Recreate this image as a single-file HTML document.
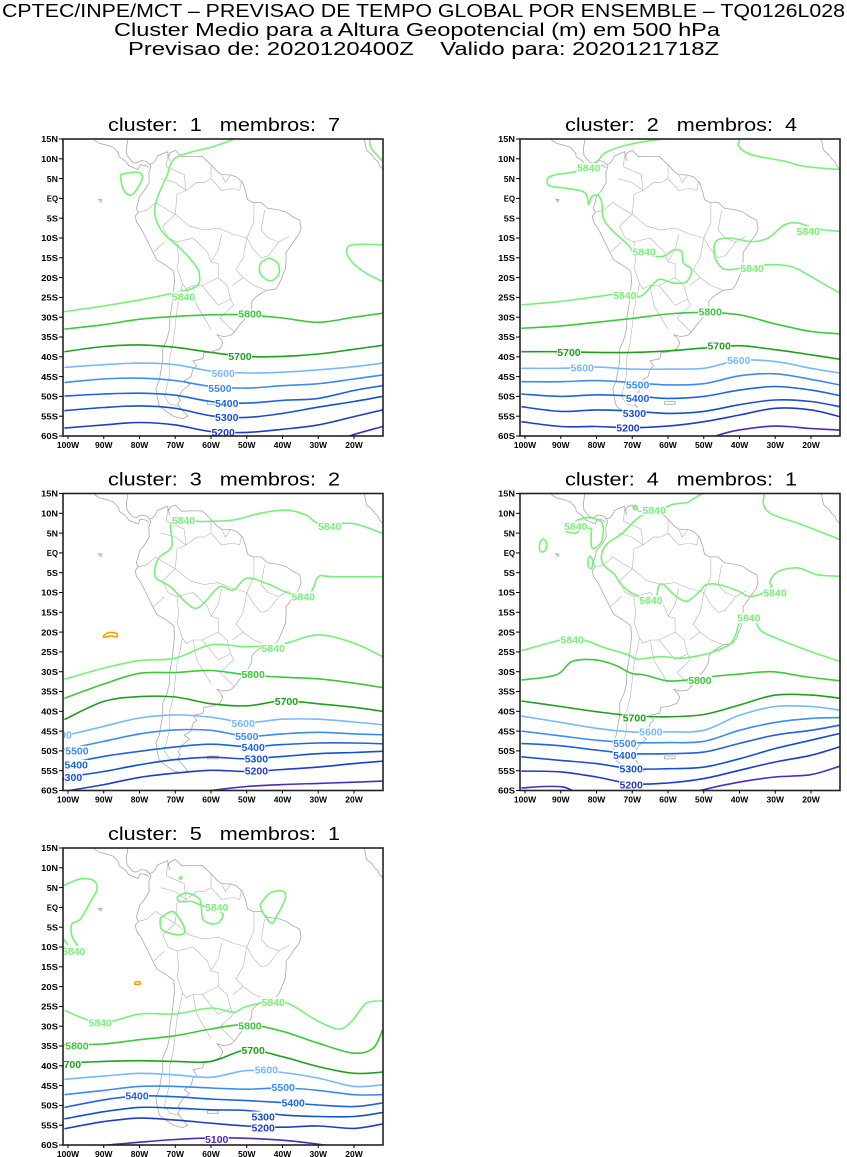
<!DOCTYPE html>
<html><head><meta charset="utf-8"><style>
html,body{margin:0;padding:0;background:#fff;}
svg{display:block;font-family:"Liberation Sans",sans-serif;}
.pre{white-space:pre;}
</style></head><body>
<svg id="chart" width="847" height="1157" viewBox="0 0 847 1157" xmlns="http://www.w3.org/2000/svg">
<rect width="847" height="1157" fill="#fff"/>
<text x="2" y="17" font-size="18" textLength="843" lengthAdjust="spacingAndGlyphs">CPTEC/INPE/MCT – PREVISAO DE TEMPO GLOBAL POR ENSEMBLE – TQ0126L028</text>
<text x="114" y="36" font-size="18" textLength="606" lengthAdjust="spacingAndGlyphs">Cluster Medio para a Altura Geopotencial (m) em 500 hPa</text>
<text class="pre" x="128" y="55" font-size="18" textLength="591" lengthAdjust="spacingAndGlyphs">Previsao de: 2020120400Z    Valido para: 2020121718Z</text>
<g id="panels"></g>
</svg>
<script>
const LONS=[-101,-90,-80,-70,-60,-50,-40,-30,-20,-12];
const latTicks=[15,10,5,0,-5,-10,-15,-20,-25,-30,-35,-40,-45,-50,-55,-60];
const latTickLabels=['15N','10N','5N','EQ','5S','10S','15S','20S','25S','30S','35S','40S','45S','50S','55S','60S'];
const lonTicks=[-100,-90,-80,-70,-60,-50,-40,-30,-20];
const lonTickLabels=['100W','90W','80W','70W','60W','50W','40W','30W','20W'];
const COLORS={5840:'#78f078',5800:'#3cc83c',5700:'#1ea01e',5600:'#78b8ff',5500:'#3c8cf0',5400:'#1e64e0',5300:'#1450d0',5200:'#1e3cc8',5100:'#5028c0',5900:'#f0a000'};

// Panel 1
const p1_5800=[-33,-31.9,-30.5,-29.8,-29.4,-29.4,-30.2,-31.3,-30,-29];
const p1_5700=[-38.7,-37.4,-37,-37.6,-38.9,-39.9,-39.9,-39.3,-38.1,-37.1];
const p1_5600=[-42.7,-42,-41.6,-42,-43.6,-44.1,-43.9,-43.3,-42.5,-41.6];
const p1_5500=[-46.5,-45.6,-45.4,-46,-47.5,-47.9,-47.3,-46.8,-45.6,-44.6];
const p1_5400=[-49.9,-49.4,-49.2,-49.7,-51.3,-51.7,-51,-50.5,-48.5,-47.3];
const p1_5300=[-53.6,-52.8,-52.4,-53,-54.9,-55.3,-54.3,-52.7,-51.3,-50];
const p1_5200=[-58,-57.2,-56.6,-57.2,-58.9,-59.1,-58.3,-57.2,-55.1,-53.4];
const p1_5100=[[-22,-60.5],[-20.3,-59.7],[-12,-57.6]];
const p1_5840a=[[-101.2,-28.6],[-91,-27.3],[-79.8,-25.6],[-70.5,-23.9],[-64,-22.2],[-63.3,-18.9],[-64.9,-16.3],[-68.7,-12.5],[-73.3,-8.8],[-75.6,-4.5],[-75.2,-0.3],[-72.4,5.6],[-70.5,9.8],[-65.9,11.6],[-59.3,13.1],[-52.8,15.2]];
const p1_5840b=[[-85.4,6],[-82,6.6],[-79.8,6.4],[-79.3,4.7],[-82.1,0.9],[-84.5,2.2],[-85.4,6]];
const p1_5840c=[[-43.7,-15],[-41.2,-16.5],[-41.1,-19.3],[-43.5,-20.8],[-46.2,-19],[-46.1,-16.3],[-43.7,-15]];
const p1_5840d=[[-12,-11.7],[-20.3,-11.7],[-22.1,-13.4],[-20.3,-16.3],[-16.6,-18.9],[-12,-21]];
const p1_5840e=[[-15.6,15.2],[-15.2,12.7],[-12,9.4]];
const p1_labels=[['5840',-67.7,-24.8,5840],['5800',-49.1,-29.1,5800],['5700',-51.9,-39.9,5700],['5600',-56.6,-44.1,5600],['5500',-57.5,-47.9,5500],['5400',-55.6,-51.7,5400],['5300',-55.6,-55.3,5300],['5200',-56.6,-59.1,5200]];

// Panel 2
const p2_5800=[-32.8,-32.2,-31.3,-30.3,-29.2,-28.8,-29.4,-31.7,-33.6,-34.2];
const p2_5700=[-38.7,-38.7,-38.9,-38.9,-38.5,-37.8,-37.2,-38.2,-39.5,-40.6];
const p2_5600=[-42.9,-42.9,-42.6,-43.1,-43.1,-42.9,-40.9,-41.2,-42.9,-44.1];
const p2_5500=[-46.3,-46.3,-46,-46.5,-47.1,-46.8,-44.8,-44.3,-45.7,-47.1];
const p2_5400=[-49.4,-50,-49.6,-49.9,-50.5,-50,-48.4,-47.5,-48.4,-49.8];
const p2_5300=[-52.6,-53.8,-53.4,-53.7,-54.3,-53.8,-52.1,-50.9,-51.3,-52.6];
const p2_5200=[-56.4,-57.6,-57.6,-57.9,-57.5,-56.4,-54.7,-53,-53.4,-55.1];
const p2_5100=[[-47,-60.6],[-46.6,-60],[-40.2,-58.5],[-30.1,-57.5],[-20,-58.1],[-12,-58.5]];
const p2_5840a=[[-101,-26.9],[-90,-26],[-79.9,-24.8],[-74.9,-24.3],[-68,-24.8],[-63.9,-21.4],[-62.1,-20.4],[-58.4,-21.4],[-54.8,-21],[-53.4,-18],[-55.7,-16.3],[-56.2,-13.4],[-58.4,-13],[-60.3,-14.2],[-63,-14.7],[-69.4,-13.4],[-71.2,-11.7],[-75.8,-7.9],[-78.1,-5],[-78.5,-1.2],[-79.5,0.7],[-81.3,0.5],[-82.2,-1.6],[-82.6,0.5],[-84,1.8],[-88.6,2.6],[-93.2,3.2],[-93.6,5.1],[-91.3,6],[-85.8,6.8],[-80.4,8.9],[-77.6,11.5],[-73.1,13.1],[-67.6,14.2],[-58.9,15.3]];
const p2_5840b=[[-39.7,15.3],[-40.2,13.1],[-36.5,11],[-27.4,9.4],[-21.9,8.1],[-12,7.3]];
const p2_5840c=[[-12,-8.3],[-18.3,-7.7],[-23.7,-6.2],[-27.4,-6.7],[-32,-10],[-36.5,-10.9],[-42.9,-10],[-46.6,-10.9],[-47,-14.2],[-45.7,-16.8],[-42.9,-18],[-32.9,-16.8],[-25.6,-17.2],[-20.1,-19.7],[-12,-23.9]];
const p2_labels=[['5840',-82.2,7.7,5840],['5840',-66.7,-13.4,5840],['5840',-72.1,-24.5,5840],['5840',-20.8,-8.3,5840],['5840',-36.5,-17.6,5840],['5800',-48.2,-28.6,5800],['5700',-87.7,-38.8,5700],['5700',-45.7,-37.2,5700],['5600',-84,-42.8,5600],['5600',-40.2,-40.9,5600],['5500',-68.5,-47.1,5500],['5400',-68.5,-50.5,5400],['5300',-69.4,-54.3,5300],['5200',-71.2,-57.9,5200]];

// Panel 3
const p3_5840s=[-31.9,-29.1,-27.2,-26.6,-23.2,-23.7,-23,-20.7,-22.8,-26.2];
const p3_5800=[-36.7,-33.1,-30.4,-30.2,-29.7,-30.8,-31.4,-31.8,-32.9,-34];
const p3_5700=[-42.1,-37.5,-36.3,-36.4,-38.1,-38.6,-37.4,-38.1,-39,-40];
const p3_5600=[-46.2,-43.8,-41.7,-40.9,-41.5,-42.8,-42,-42,-42.7,-43.4];
const p3_5500=[-49.7,-47.6,-45.7,-44.7,-44.8,-46.3,-45.7,-45.3,-45.7,-45.9];
const p3_5400=[-53.3,-51.4,-50.1,-49,-48.3,-48.9,-48.4,-48,-48,-48.2];
const p3_5300=[-56.7,-55.2,-53.5,-52.2,-51.6,-52,-51.4,-50.7,-50.4,-50.1];
const p3_5200=[-60.2,-58.5,-56.7,-55.6,-54.9,-55.2,-54.7,-54.1,-53.2,-52.6];
const p3_5100=[[-64,-60.6],[-60,-60],[-50,-59],[-40,-58.5],[-30,-58.2],[-20,-57.9],[-12,-57.6]];
const p3_5840a=[[-63,7.9],[-70.8,7.9],[-71,1.6],[-74.7,-1.4],[-75.6,-6],[-71.4,-8.5],[-66.8,-12.7],[-64,-14],[-61.2,-11.9],[-57.5,-8.5],[-53.8,-9.4],[-50,-6.4],[-44.5,-7.7],[-38,-10.2],[-32.4,-10.2],[-30,-6],[-25.9,-6],[-12,-6]];
const p3_5840b=[[-63,7.9],[-53.8,8.3],[-46.3,10],[-38.9,10.8],[-33.3,9.5],[-29.6,7.4],[-20.3,7.4],[-12,4.9]];
const p3_5900=[[-90,-20.8],[-88.5,-20.1],[-86.5,-20.3],[-86.3,-21.2],[-88,-21],[-90,-21.3],[-90,-20.8]];
const p3_labels=[['5840',-67.7,8.3,5840],['5840',-26.8,6.8,5840],['5840',-34.2,-11,5840],['5840',-42.6,-24.1,5840],['5800',-48.2,-30.6,5800],['5700',-38.9,-37.4,5700],['5600',-51,-43,5600],['5500',-50,-46.3,5500],['5400',-48.2,-49.1,5400],['5300',-47.3,-52,5300],['5200',-47.3,-55,5200],['5600',-102.2,-45.9,5600],['5500',-97.5,-50,5500],['5400',-97.7,-53.5,5400],['5300',-99.3,-56.7,5300]];

// Panel 4
const p4_5700=[-37.4,-38.8,-40.1,-41.1,-41.4,-40.8,-38.4,-35.9,-35.9,-36.7];
const p4_5600=[-41.2,-42.8,-44.3,-45.2,-45.2,-44.8,-41,-38.8,-38.8,-39.7];
const p4_5500=[-45,-46.2,-47.3,-47.9,-47.9,-47.6,-44.8,-42.8,-41.8,-41.6];
const p4_5400=[-48.1,-48.7,-49.8,-50.7,-50.7,-50.3,-48.1,-46,-44.8,-43.5];
const p4_5300=[-51.5,-52.4,-53.2,-54.5,-54.5,-54.1,-52,-49.4,-47.3,-45.6];
const p4_5200=[-55.1,-55.3,-56.6,-58.3,-58.1,-57,-54.9,-52.8,-51.1,-49];
const p4_5800=[[-101,-32.1],[-91.3,-30.8],[-86.8,-27.4],[-80.4,-27],[-74.9,-28.3],[-70.3,-30.4],[-66.7,-30.8],[-60.3,-32.3],[-54.8,-32.1],[-47.5,-31.2],[-40.2,-30.6],[-31,-30],[-21.9,-31.2],[-12,-32.3]];
const p4_5100a=[[-51.5,-60.5],[-51.1,-60],[-40.2,-57.9],[-30.1,-56.6],[-20.1,-56],[-12,-53.9]];
const p4_5100b=[[-101,-59.4],[-95,-59],[-89.5,-59.1],[-86.8,-60],[-86.5,-60.5]];
const p4_5840a=[[-101,-24.7],[-89.5,-21.9],[-84,-21.9],[-77.6,-24],[-71.2,-25.7],[-68.5,-26.8],[-62.1,-26.2],[-56.6,-26.6],[-53,-26.2],[-48.4,-25.3],[-42.9,-23.2],[-41.1,-20.7],[-40.2,-18.1],[-38.4,-16.4],[-35.6,-17.3],[-33.8,-19.8],[-27.4,-22.4],[-20.1,-24.9],[-12,-27.4]];
const p4_5840b=[[-12,-5.9],[-18.3,-5.5],[-23.7,-3.8],[-29.2,-4.7],[-31.5,-7.2],[-31,-8.4],[-33.3,-10.1],[-37.4,-11],[-40.2,-9.7],[-45.7,-8],[-49.3,-8],[-51.1,-9.7],[-54.8,-12.2],[-58.4,-10.5],[-61.2,-8],[-62.6,-8.4],[-63.9,-11.8],[-69.4,-10.5],[-73.1,-8],[-74.9,-5.5],[-78.1,-2.9],[-78.5,0],[-76.7,2.6],[-73.1,4.7],[-70.3,7.2],[-67.6,9.3],[-62.1,11],[-58.4,12.3],[-54.8,12.7],[-53,13.6],[-49.8,15.3]];
const p4_5840c=[[-88.6,5.4],[-88.6,6.4],[-85,8.4],[-81.7,8.9],[-78.5,7.6],[-78.3,3.8],[-79.5,1.8],[-81.3,1.3],[-81.5,4.7],[-81.5,6.1],[-84,6],[-86,5],[-88.6,5.4]];
const p4_5840d=[[-32.9,15.3],[-33.3,12.3],[-31,9.8],[-22.8,7.2],[-12,3.4]];
const p4_5840e=[[-95,3.6],[-94,2.6],[-94.3,0.6],[-95.7,0.4],[-95.9,2.4],[-95,3.6]];
const p4_5840f=[[-81.7,-0.8],[-81,-2],[-81.4,-3.9],[-82.3,-3.4],[-82.3,-1.5],[-81.7,-0.8]];
const p4_5840g=[[-69.2,12.1],[-68.6,11.5],[-69.2,10.9],[-69.8,11.5],[-69.2,12.1]];
const p4_labels=[['5840',-85.8,6.8,5840],['5840',-63.9,10.8,5840],['5840',-86.8,-21.9,5840],['5840',-64.8,-12,5840],['5840',-30.1,-10.1,5840],['5840',-37.4,-16.4,5840],['5800',-51.1,-32.1,5800],['5700',-69.4,-41.6,5700],['5600',-64.8,-45.2,5600],['5500',-72.1,-48.1,5500],['5400',-72.1,-51.1,5400],['5300',-70.3,-54.5,5300],['5200',-70.3,-58.5,5200]];

// Panel 5
const p5_5700=[-39.3,-38.9,-38.7,-38.9,-38.9,-36,-37.7,-40.2,-41.9,-41.6];
const p5_5600=[-43.4,-42.6,-41.9,-42.3,-42.9,-41.2,-41.7,-43.1,-45.2,-44.8];
const p5_5500=[-47.3,-46.2,-45.2,-45.2,-45.6,-45.9,-45.6,-46.2,-47.3,-47.3];
const p5_5400=[-50.5,-48.6,-47.6,-47.8,-48.4,-48.8,-49.3,-49.9,-50.3,-49.4];
const p5_5300=[-53.4,-51.6,-50.5,-50.7,-51.1,-51.3,-52.4,-52.8,-52.8,-51.8];
const p5_5200=[-55.9,-54.1,-53.2,-53.7,-54.5,-55.2,-55.5,-55.2,-55.8,-54.7];
const p5_5100=[[-92,-60.6],[-91,-60.2],[-80,-59.3],[-70,-58.6],[-60,-58.2],[-50,-58.3],[-40,-58.8],[-30,-59.8],[-25,-60.6]];
const p5_5800=[[-101,-34.7],[-90,-34.5],[-80,-33.4],[-70,-32.4],[-60,-30.7],[-50,-29.6],[-40,-31.3],[-30,-34.3],[-20.3,-36.8],[-14.7,-35.6],[-12,-30.9]];
const p5_5840a=[[-101,-26],[-91,-29.1],[-79.8,-26.9],[-70,-26.9],[-60,-25.4],[-53.7,-26.5],[-50,-25],[-40,-23.8],[-30,-28.8],[-24,-30.7],[-20.3,-28.4],[-16.6,-24.2],[-12,-23.6]];
const p5_5840b=[[-101.2,5.5],[-96.6,7.2],[-92.9,6.8],[-91.9,4.6],[-93.8,1.3],[-96.6,-3],[-98.9,-4.2],[-98.9,-7.2],[-97,-10.1]];
const p5_5840c=[[-74.2,-2.7],[-70.9,-1],[-68.6,-3.1],[-67.3,-6.1],[-69.6,-6.9],[-73.8,-5.6],[-74.2,-2.7]];
const p5_5840d=[[-69.6,2.5],[-66.9,3.6],[-63.1,1.9],[-62.2,-3.1],[-58.5,-4.1],[-56.6,-1.8],[-59.3,-0.6],[-63.5,0.8],[-65.4,1.5],[-68.7,1.5],[-69.6,2.5]];
const p5_5840e=[[-46.3,0.7],[-43.5,3.6],[-39.8,4.1],[-39.3,2],[-41.7,-2.3],[-43.1,-4],[-45.4,-1.5],[-46.3,0.7]];
const p5_5840f=[[-101.2,-8],[-100,-9.5]];
const p5_5840g=[[-68.8,7.6],[-68.2,7.7],[-68.2,7.2],[-68.8,7.2],[-68.8,7.6]];
const p5_5900=[[-81.2,-18.8],[-80,-18.8],[-79.9,-19.4],[-81.3,-19.4],[-81.2,-18.8]];
const p5_labels=[['5840',-98.4,-11,5840],['5840',-58.4,0,5840],['5840',-91,-29.1,5840],['5840',-42.6,-23.9,5840],['5800',-97.5,-34.9,5800],['5800',-49.1,-29.9,5800],['5700',-99.6,-39.6,5700],['5700',-48.2,-36,5700],['5600',-44.5,-41,5600],['5500',-39.8,-45.4,5500],['5400',-80.7,-47.5,5400],['5400',-37,-49.3,5400],['5300',-45.4,-52.8,5300],['5200',-45.4,-55.6,5200],['5100',-58.4,-58.5,5100]];

// Map geography (lon, lat)
const coastSA=[[-77.3,8.6],[-76.8,8],[-77.4,6.5],[-77.3,4],[-78.6,2],[-80,0.5],[-80.4,-1],[-80.9,-2.5],[-80.3,-3.5],[-81.2,-4.5],[-80.8,-6],[-79.6,-7.5],[-78.5,-9.5],[-76.3,-13.5],[-75.2,-15.5],[-72.5,-17],[-70.4,-18.4],[-70.2,-21],[-70.5,-23.5],[-70.9,-27],[-71.5,-30],[-71.6,-33],[-72.3,-35.5],[-73.5,-38],[-73.5,-41],[-74,-43.5],[-74.5,-46],[-75.4,-48],[-75,-50.5],[-74.4,-52.5],[-72.5,-53.8],[-70.5,-55],[-68,-55.6],[-66.5,-55],[-68.5,-53],[-69.3,-52],[-68.6,-51],[-69.2,-50.2],[-68,-48.5],[-66,-47],[-67.5,-46],[-65.6,-45],[-65,-43],[-64,-42.3],[-65,-41],[-62.3,-40.5],[-62,-39],[-60,-38.8],[-57.5,-38],[-56.7,-36.5],[-57.4,-35.3],[-58.4,-34.4],[-56.5,-34.9],[-54.5,-34.6],[-53.4,-33.7],[-52.1,-32.1],[-50.7,-30.6],[-49.5,-29.1],[-48.6,-27.5],[-48.6,-26],[-47.5,-24.9],[-46,-24],[-44.5,-23.2],[-42,-22.9],[-41,-21.8],[-40.2,-20],[-39.2,-17.8],[-39,-15.5],[-39,-13.5],[-38.3,-12.8],[-37,-11],[-35.3,-9],[-34.8,-7.5],[-35.2,-5.5],[-37.2,-4.6],[-38.9,-3.5],[-41,-2.9],[-44.2,-2.5],[-46,-1],[-48.3,-1],[-49.8,-0.3],[-50.3,1.7],[-51.2,4],[-52.8,5.4],[-54.5,5.9],[-57.1,6],[-58.5,7],[-60,8.5],[-61.5,9.8],[-62.5,10.6],[-64,10.6],[-66,10.6],[-68.2,10.5],[-70,12.1],[-71.3,11.6],[-71.9,10.8],[-71.6,9.5],[-72,11.1],[-72.2,11.8],[-73.5,11.3],[-75,10.7],[-75.6,9.5],[-76.4,8.8],[-77.3,8.6]];
const coastCAm1=[[-77.3,8.6],[-78,9.3],[-79.5,9.6],[-81,8.9],[-82,9.2],[-83.5,10.8],[-83.7,12.5],[-83.3,14.5],[-83.2,15.5]];
const coastCAm2=[[-77.4,7.8],[-78.3,8.3],[-79.8,8.5],[-80.4,7.3],[-81.5,7.7],[-83,8.3],[-84,9.5],[-85.7,10.5],[-85.8,11.4],[-87.3,12.9],[-89,13.4],[-91.2,13.9],[-92.5,14.7],[-93.5,15.8]];
const coastAfrica=[[-17.2,15.5],[-17,14.5],[-16.7,13],[-16.5,12.2],[-15,11],[-14.2,10],[-13.3,9.3],[-12.9,8.3],[-11.5,7]];
const coastFalk=[[-61,-51.3],[-58,-51.3],[-58,-52],[-61,-52],[-61,-51.3]];
const coastGalap=[[-91.5,-0.2],[-90.5,-0.3],[-90.8,-0.9],[-91.5,-0.2]];
const borders=[
 [[-60,5],[-62,4],[-64,4],[-67,2],[-69.5,1],[-70,-4],[-73.5,-7],[-72,-10],[-69.5,-11],[-65,-10],[-61,-13.5],[-60,-16],[-58,-16.5],[-58,-20],[-55.5,-22],[-54.5,-25.5],[-53.7,-27],[-57.5,-30.2],[-53.5,-33.7]],
 [[-80.3,-3.5],[-78,-3],[-75.5,-1],[-73,-2.5],[-70,-4]],
 [[-72,11.8],[-72.5,8],[-70,7],[-67.5,6],[-67,2]],
 [[-69.5,-11],[-69,-15.5],[-69.5,-17.5],[-68,-21.5],[-67,-22.8],[-65,-22],[-62.5,-22],[-58,-20]],
 [[-68,-21.5],[-68.5,-24],[-69.5,-28],[-70,-32],[-70.5,-36],[-71.5,-40],[-71.7,-45],[-72.5,-48],[-73,-50],[-71.5,-52],[-68.5,-52.5]],
 [[-62.5,-22],[-58,-27],[-54.5,-25.5]],
 [[-50,-10],[-48,-13],[-46,-15],[-44,-14.5],[-41,-11],[-38,-9.5]],
 [[-48,-1],[-48,-6],[-50,-10],[-51,-15],[-53,-18],[-51,-20],[-48,-22],[-44.5,-23.2]],
 [[-57,-9],[-58,-13],[-60,-16]],
 [[-45,-3],[-46,-8],[-44,-10],[-41,-11]],
 [[-54,-22],[-51,-20]],
 [[-60,8.5],[-60,5],[-57,2],[-54,2.5],[-52,2],[-51.5,4.2]],
 [[-57,6],[-56,4],[-54.5,5.9]],
 [[-70,-4],[-66,-7],[-62,-8],[-58,-7.5],[-54,-9],[-50,-10]],
 [[-74,5],[-70,4],[-67,2]],
 [[-76,-13.5],[-73,-11]],
 [[-65,-22],[-64,-27],[-62,-30],[-60,-33]]
];

const PANELS=[
 {id:1,L:63,T:139,title:'cluster:  1   membros:  7',
  grid:[[5800,p1_5800],[5700,p1_5700],[5600,p1_5600],[5500,p1_5500],[5400,p1_5400],[5300,p1_5300],[5200,p1_5200]],
  free:[[5100,p1_5100],[5840,p1_5840a],[5840,p1_5840b],[5840,p1_5840c],[5840,p1_5840d],[5840,p1_5840e]],labels:p1_labels},
 {id:2,L:520,T:139,title:'cluster:  2   membros:  4',
  grid:[[5800,p2_5800],[5700,p2_5700],[5600,p2_5600],[5500,p2_5500],[5400,p2_5400],[5300,p2_5300],[5200,p2_5200]],
  free:[[5100,p2_5100],[5840,p2_5840a],[5840,p2_5840b],[5840,p2_5840c]],labels:p2_labels},
 {id:3,L:63,T:493.5,title:'cluster:  3   membros:  2',
  grid:[[5840,p3_5840s],[5800,p3_5800],[5700,p3_5700],[5600,p3_5600],[5500,p3_5500],[5400,p3_5400],[5300,p3_5300],[5200,p3_5200]],
  free:[[5100,p3_5100],[5840,p3_5840a],[5840,p3_5840b],[5900,p3_5900]],labels:p3_labels},
 {id:4,L:520,T:493.5,title:'cluster:  4   membros:  1',
  grid:[[5700,p4_5700],[5600,p4_5600],[5500,p4_5500],[5400,p4_5400],[5300,p4_5300],[5200,p4_5200]],
  free:[[5800,p4_5800],[5100,p4_5100a],[5100,p4_5100b],[5840,p4_5840a],[5840,p4_5840b],[5840,p4_5840c],[5840,p4_5840d],[5840,p4_5840e],[5840,p4_5840f],[5840,p4_5840g]],labels:p4_labels},
 {id:5,L:63,T:848,title:'cluster:  5   membros:  1',
  grid:[[5700,p5_5700],[5600,p5_5600],[5500,p5_5500],[5400,p5_5400],[5300,p5_5300],[5200,p5_5200]],
  free:[[5100,p5_5100],[5800,p5_5800],[5840,p5_5840a],[5840,p5_5840b],[5840,p5_5840c],[5840,p5_5840d],[5840,p5_5840e],[5840,p5_5840f],[5840,p5_5840g],[5900,p5_5900]],labels:p5_labels}
];

const NS='http://www.w3.org/2000/svg';
const W=320,H=297,XS=3.575,YS=H/75;
function mk(tag,attrs,parent){const e=document.createElementNS(NS,tag);for(const k in attrs)e.setAttribute(k,attrs[k]);if(parent)parent.appendChild(e);return e;}
function smooth(pts){
  if(pts.length<3){return 'M'+pts.map(p=>p[0].toFixed(1)+','+p[1].toFixed(1)).join('L');}
  let d='M'+pts[0][0].toFixed(1)+','+pts[0][1].toFixed(1);
  for(let i=0;i<pts.length-1;i++){
    const p0=pts[i-1]||pts[i],p1=pts[i],p2=pts[i+1],p3=pts[i+2]||pts[i+1];
    const c1=[p1[0]+(p2[0]-p0[0])/6,p1[1]+(p2[1]-p0[1])/6],c2=[p2[0]-(p3[0]-p1[0])/6,p2[1]-(p3[1]-p1[1])/6];
    d+='C'+c1[0].toFixed(1)+','+c1[1].toFixed(1)+' '+c2[0].toFixed(1)+','+c2[1].toFixed(1)+' '+p2[0].toFixed(1)+','+p2[1].toFixed(1);
  }
  return d;
}
const root=document.getElementById('panels');
PANELS.forEach(P=>{
  const xs=lon=>P.L+5+(lon+100)*XS, ys=lat=>P.T+(15-lat)*YS;
  const g=mk('g',{},root);
  
  
  const t=mk('text',{x:P.L+45,y:P.T-8,'font-size':18,'class':'pre',textLength:232,lengthAdjust:'spacingAndGlyphs'},g);
  
  
  t.textContent=P.title;
  const cid='clip'+P.id;
  const cp=mk('clipPath',{id:cid},g);mk('rect',{x:P.L,y:P.T,width:W,height:H},cp);
  const inner=mk('g',{'clip-path':'url(#'+cid+')'},g);
  const geo=mk('g',{fill:'none',stroke:'#a8a8a8','stroke-width':0.8},inner);
  
  
  [coastSA,coastCAm1,coastCAm2,coastAfrica,coastFalk,coastGalap].forEach(c=>{
    mk('path',{d:'M'+c.map(p=>xs(p[0]).toFixed(1)+','+ys(p[1]).toFixed(1)).join('L')},geo);
  });
  borders.forEach(c=>{
    mk('path',{d:'M'+c.map(p=>xs(p[0]).toFixed(1)+','+ys(p[1]).toFixed(1)).join('L'),'stroke-width':0.6,stroke:'#b4b4b4'},geo);
  });
  const cg=mk('g',{fill:'none','stroke-width':1.6,'stroke-linejoin':'round'},inner);
  P.grid.forEach(([lev,arr])=>{
    const pts=arr.map((lat,i)=>[xs(LONS[i]),ys(lat)]);
    const p=mk('path',{d:smooth(pts),stroke:COLORS[lev]},cg);
    
    
  });
  P.free.forEach(([lev,arr])=>{
    const pts=arr.map(q=>[xs(q[0]),ys(q[1])]);
    const p=mk('path',{d:smooth(pts),stroke:COLORS[lev]},cg);
    
    
  });
  P.labels.forEach(([txt,lon,lat,lev])=>{
    const x=xs(lon),y=ys(lat);
    mk('rect',{x:x-12,y:y-5,width:24,height:10,fill:'#fff'},inner);
    const tl=mk('text',{x:x,y:y+3.8,'font-size':10.5,'font-weight':'bold','text-anchor':'middle',fill:COLORS[lev]},inner);
    
    
    tl.textContent=txt;
  });
  const fr=mk('rect',{x:P.L,y:P.T,width:W,height:H,fill:'none',stroke:'#222','stroke-width':1.6},g);
  
  
  latTicks.forEach((lat,i)=>{
    const y=ys(lat);
    mk('line',{x1:P.L-4,x2:P.L,y1:y,y2:y,stroke:'#000','stroke-width':1},g);
    const tx=mk('text',{x:P.L-5,y:y+3.2,'font-size':8.5,'font-weight':'bold','text-anchor':'end',textLength:latTickLabels[i].length*5.6,lengthAdjust:'spacingAndGlyphs'},g);
    
    
    tx.textContent=latTickLabels[i];
  });
  lonTicks.forEach((lon,i)=>{
    const x=xs(lon);
    mk('line',{x1:x,x2:x,y1:P.T+H,y2:P.T+H+3,stroke:'#000','stroke-width':1},g);
    const tx=mk('text',{x:x,y:P.T+H+12,'font-size':8.5,'font-weight':'bold','text-anchor':'middle'},g);
    
    
    tx.textContent=lonTickLabels[i];
  });
});
</script>
</body></html>
